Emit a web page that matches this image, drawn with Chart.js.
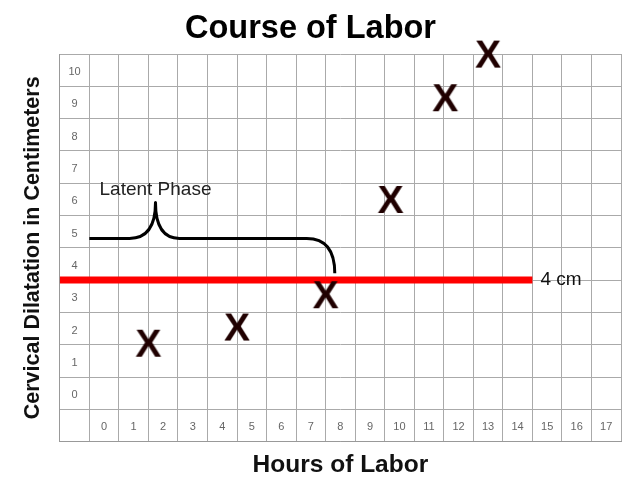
<!DOCTYPE html>
<html>
<head>
<meta charset="utf-8">
<script src="https://cdn.jsdelivr.net/npm/chart.js@4/dist/chart.umd.min.js"></script>
<style>
  html, body { margin: 0; padding: 0; background: #fff; }
  #wrap { width: 640px; height: 493px; }
</style>
</head>
<body>
<div id="wrap"><canvas id="labor-chart" width="640" height="493"></canvas></div>
<script>
// tick labels written inside the grid cells
const hourLabels = ['0','1','2','3','4','5','6','7','8','9','10','11','12','13','14','15','16','17'];
const cmLabels = ['0','1','2','3','4','5','6','7','8','9','10'];

// cervical exams (hours, cm)
const examHours = [2, 5, 8, 10.2, 12.05, 13.5];
const examCm = [2, 2.5, 3.5, 6.45, 9.6, 10.95];

// 4 cm line
const lineCm = [4, 4];
const lineHours = [-1, 15];
const lineLabel = '4 cm';

// latent phase brace: start, left flat end, peak, right flat start, right flat end, tip
const braceHours = [0, 1.36, 2.24, 3.05, 7.36, 8.31];
const braceCm = [5.29, 5.29, 6.4, 5.29, 5.29, 4.21];
const braceLabel = 'Latent Phase';

const FONT = "'Liberation Sans', Arial, sans-serif";

// bold X glyph used as point style
function makeX() {
  const c = document.createElement('canvas');
  c.width = 48; c.height = 48;
  const g = c.getContext('2d');
  g.fillStyle = '#200000';
  g.font = 'bold 39px ' + FONT;
  g.textAlign = 'center';
  g.textBaseline = 'middle';
  g.fillText('X', 24, 25);
  return c;
}

const cellLabels = {
  id: 'cellLabels',
  afterDraw(chart) {
    const { ctx, scales: { x, y } } = chart;
    ctx.save();
    ctx.fillStyle = '#666';
    ctx.font = '11px ' + FONT;
    ctx.textAlign = 'center';
    ctx.textBaseline = 'middle';
    hourLabels.forEach((t, i) => ctx.fillText(t, x.getPixelForValue(i + 0.5), y.getPixelForValue(-0.5) + 2));
    cmLabels.forEach((t, i) => ctx.fillText(t, x.getPixelForValue(-0.5), y.getPixelForValue(i + 0.5) + 2));

    // 4 cm label
    ctx.fillStyle = '#111';
    ctx.font = '19px ' + FONT;
    ctx.textAlign = 'left';
    ctx.fillText(lineLabel, x.getPixelForValue(lineHours[1]) + 8, y.getPixelForValue(lineCm[1]));

    // brace
    const px = braceHours.map(v => x.getPixelForValue(v));
    const py = braceCm.map(v => y.getPixelForValue(v));
    ctx.strokeStyle = '#000';
    ctx.lineWidth = 3;
    ctx.lineJoin = 'round';
    ctx.beginPath();
    ctx.moveTo(px[0], py[0]);
    ctx.lineTo(px[1], py[1]);
    ctx.quadraticCurveTo(px[2], py[1], px[2], py[2]);
    ctx.quadraticCurveTo(px[2], py[3], px[3], py[3]);
    ctx.lineTo(px[4], py[4]);
    ctx.quadraticCurveTo(px[5], py[4], px[5], py[5]);
    ctx.stroke();

    ctx.fillStyle = '#222';
    ctx.font = '19px ' + FONT;
    ctx.textAlign = 'center';
    ctx.textBaseline = 'alphabetic';
    ctx.fillText(braceLabel, px[2], py[2] - 8);
    ctx.restore();
  }
};

const xMark = makeX();

new Chart(document.getElementById('labor-chart'), {
  type: 'scatter',
  data: {
    datasets: [
      {
        type: 'line',
        data: lineHours.map((h, i) => ({ x: h, y: lineCm[i] })),
        borderColor: '#ff0000',
        borderWidth: 7,
        pointRadius: 0,
        order: 2
      },
      {
        data: examHours.map((h, i) => ({ x: h, y: examCm[i] })),
        pointStyle: xMark,
        pointRadius: 1,
        clip: false,
        order: 1
      }
    ]
  },
  options: {
    responsive: false,
    animation: false,
    layout: { padding: { left: 0, right: 19, top: 0, bottom: 3 } },
    plugins: {
      legend: { display: false },
      tooltip: { enabled: false },
      title: {
        display: true,
        text: 'Course of Labor',
        color: '#000',
        font: { family: FONT, size: 32.5, weight: 'bold' },
        padding: { top: 10, bottom: 5 }
      }
    },
    scales: {
      x: {
        type: 'linear',
        min: -1, max: 18,
        ticks: { display: false, stepSize: 1 },
        grid: { color: '#aaa', drawTicks: false },
        border: { color: '#999' },
        title: {
          display: true,
          text: 'Hours of Labor',
          color: '#111',
          font: { family: FONT, size: 24.5, weight: 'bold' },
          padding: { top: 9, bottom: 10 }
        }
      },
      y: {
        type: 'linear',
        min: -1, max: 11,
        ticks: { display: false, stepSize: 1 },
        grid: { color: '#aaa', drawTicks: false },
        border: { color: '#999' },
        title: {
          display: true,
          text: 'Cervical Dilatation in Centimeters',
          color: '#111',
          font: { family: FONT, size: 21.5, weight: 'bold' },
          padding: { top: 20, bottom: 14 }
        }
      }
    }
  },
  plugins: [cellLabels]
});
</script>
</body>
</html>
